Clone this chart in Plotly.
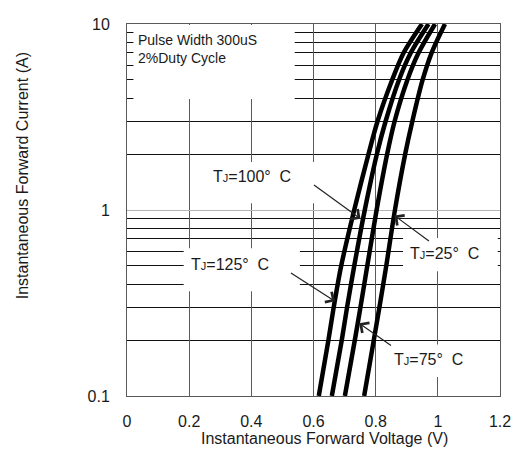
import plotly.graph_objects as go

# ---- data ----
current_a = [0.1, 0.2, 0.3, 0.5, 1, 2, 3, 5, 7, 10]
vf_125c = [0.617, 0.648, 0.665, 0.689, 0.731, 0.777, 0.806, 0.853, 0.890, 0.949]
vf_100c = [0.659, 0.691, 0.708, 0.731, 0.765, 0.804, 0.832, 0.875, 0.913, 0.970]
vf_75c = [0.701, 0.733, 0.751, 0.773, 0.803, 0.837, 0.861, 0.902, 0.938, 0.991]
vf_25c = [0.763, 0.794, 0.812, 0.834, 0.862, 0.895, 0.918, 0.951, 0.980, 1.023]

x_ticks = [0, 0.2, 0.4, 0.6, 0.8, 1.0, 1.2]
x_ticktext = ["0", "0.2", "0.4", "0.6", "0.8", "1", "1.2"]
y_major = [0.1, 1, 10]
y_major_text = ["0.1", "1", "10"]
y_minor = [0.2, 0.3, 0.4, 0.5, 0.6, 0.7, 0.8, 0.9, 2, 3, 4, 5, 6, 7, 8, 9]

OFF = 8  # default page body margin
W, H = 519 - OFF, 453 - OFF
L, R, T, B = 127, 504, 16, 396  # plot box in page pixels


def P(px, py):
    return (px - L) / (R - L), (B - py) / (B - T)


FONT = "Liberation Sans, Arial, sans-serif"
TXT = "#1a1a1a"

fig = go.Figure()
for v in [vf_125c, vf_100c, vf_75c, vf_25c]:
    fig.add_trace(go.Scatter(x=v, y=current_a, mode="lines",
                             line=dict(color="black", width=4.5, shape="spline", smoothing=0.8),
                             showlegend=False, hoverinfo="skip"))

shapes = []
# white boxes clearing the grid behind labels
for (x0, y0, x1, y1) in [(133.5, 17, 296.5, 92.6),
                         (200, 157, 318, 199),
                         (184.3, 245, 301.7, 289),
                         (406, 234.6, 501.7, 268.5),
                         (388, 343.3, 480, 376.7)]:
    px0, py0 = P(x0, y1)
    px1, py1 = P(x1, y0)
    shapes.append(dict(type="rect", xref="paper", yref="paper",
                       x0=px0, y0=py0, x1=px1, y1=py1,
                       fillcolor="white", line=dict(width=0), layer="above"))

annotations = []


def txt(px, py, s, size=16, xanchor="center", align="center"):
    x, y = P(px, py)
    annotations.append(dict(xref="paper", yref="paper", x=x, y=y, text=s, showarrow=False,
                            xanchor=xanchor, yanchor="middle", align=align,
                            font=dict(family=FONT, size=size, color=TXT)))


def arrow(tipx, tipy, tailx, taily):
    x, y = P(tipx, tipy)
    annotations.append(dict(xref="paper", yref="paper", x=x, y=y, text="", showarrow=True,
                            ax=tailx - tipx, ay=taily - tipy, arrowhead=4, arrowsize=2,
                            arrowwidth=1.2, arrowcolor="#222", standoff=0))


J = "<span style='font-size:11px'>J</span>"
txt(136, 42, "Pulse Width 300uS<br>2%Duty Cycle", size=14, xanchor="left", align="left")
txt(253.7, 171.7, "T" + J + "=100°  C")
txt(447.5, 250.7, "T" + J + "=25°  C")
txt(230.8, 261.7, "T" + J + "=125°  C")
txt(431.3, 359, "T" + J + "=75°  C")
arrow(363, 215, 315, 180)
arrow(397.3, 211.7, 433.3, 238.3)
arrow(337.3, 299.3, 291.7, 270)
arrow(361.7, 321.7, 395, 345)

# axis titles
txt(326.3, 439.5, "Instantaneous Forward Voltage (V)")
xt, yt = P(21.7, 170.7)
annotations.append(dict(xref="paper", yref="paper", x=xt, y=yt, text="Instantaneous Forward Current (A)",
                        showarrow=False, textangle=-90, xanchor="center", yanchor="middle",
                        font=dict(family=FONT, size=16, color=TXT)))

fig.update_layout(
    width=W, height=H, autosize=False,
    margin=dict(l=L - OFF, r=W - (R - OFF), t=T - OFF, b=H - (B - OFF), pad=0),
    paper_bgcolor="white", plot_bgcolor="white",
    shapes=shapes, annotations=annotations,
    xaxis=dict(range=[0, 1.2], tickvals=x_ticks, ticktext=x_ticktext,
               showgrid=True, gridcolor="#5a5a5a", gridwidth=1, zeroline=False,
               showline=True, mirror=True, linecolor="#5a5a5a", linewidth=1,
               ticks="", ticklabelstandoff=11,
               tickfont=dict(family=FONT, size=16, color=TXT), fixedrange=True),
    yaxis=dict(type="log", range=[-1, 1], tickvals=y_major, ticktext=y_major_text,
               showgrid=True, gridcolor="#b4b4b4", gridwidth=1, zeroline=False,
               minor=dict(tickvals=y_minor, showgrid=True, gridcolor="#111", gridwidth=1, ticks=""),
               showline=True, mirror=True, linecolor="#5a5a5a", linewidth=1,
               ticks="", ticklabelstandoff=13,
               tickfont=dict(family=FONT, size=16, color=TXT), fixedrange=True),
)

fig.write_html("out.html")
